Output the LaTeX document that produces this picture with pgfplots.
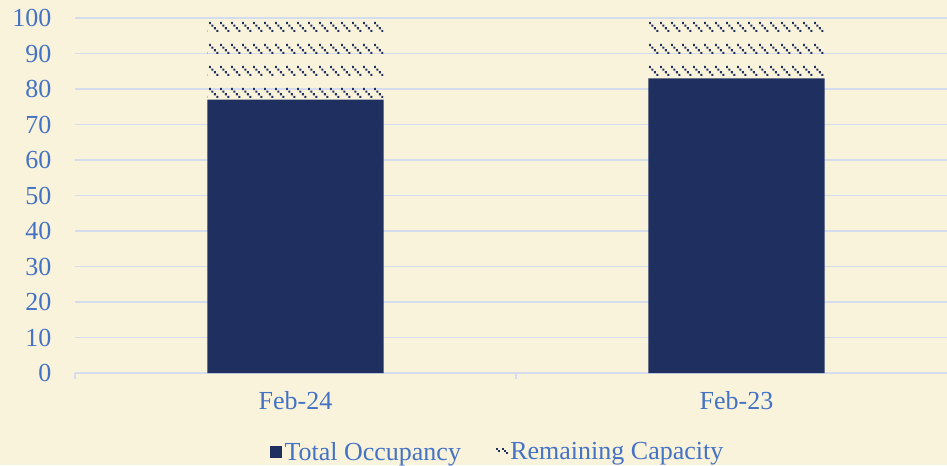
\documentclass[border=0pt]{standalone}
\usepackage{pgfplots}
\pgfplotsset{compat=1.18}
\usepackage{fontspec}
\setmainfont{Liberation Serif}
\usetikzlibrary{patterns}
\definecolor{bgc}{HTML}{FAF3DC}
\definecolor{navy}{HTML}{1F2F5F}
\definecolor{txt}{HTML}{4472C4}
\definecolor{gridc}{HTML}{D5DCEE}
\pgfdeclarepatternformonly{excelhatch}{\pgfpointorigin}{\pgfqpoint{8.25pt}{16.2pt}}{\pgfqpoint{8.25pt}{16.2pt}}{%
  \pgfpathrectangle{\pgfqpoint{0pt}{6pt}}{\pgfqpoint{1.6pt}{1.6pt}}%
  \pgfpathrectangle{\pgfqpoint{2pt}{4pt}}{\pgfqpoint{1.6pt}{1.6pt}}%
  \pgfpathrectangle{\pgfqpoint{4pt}{2pt}}{\pgfqpoint{1.6pt}{1.6pt}}%
  \pgfpathrectangle{\pgfqpoint{6pt}{0pt}}{\pgfqpoint{1.6pt}{1.6pt}}%
  \pgfusepath{fill}}
\begin{document}
\begin{tikzpicture}
\fill[bgc] (-56.25pt,-69pt) rectangle (654pt,279.75pt);
\useasboundingbox (-56.25pt,-69pt) rectangle (654pt,279.75pt);
\begin{axis}[
  at={(0,0)}, anchor=south west,
  scale only axis, width=654pt, height=266.25pt,
  xmin=-0.5, xmax=1.4773, ymin=0, ymax=100,
  ybar stacked, bar width=0.4,
  xtick={0,1}, xticklabels={Feb-24,Feb-23},
  minor xtick={-0.5,0.5,1.5},
  ytick={0,10,...,100},
  axis lines*=left,
  y axis line style={draw=none},
  x axis line style={draw=gridc, line width=0.8pt},
  ymajorgrids, grid style={gridc, line width=0.8pt},
  major tick style={draw=none},
  minor x tick style={draw=gridc, line width=0.8pt},
  tick align=outside, minor tick length=4.5pt,
  ytick style={draw=none},
  /pgf/number format/assume math mode=true,
  tick label style={font=\fontsize{19.5pt}{23pt}\selectfont, text=txt},
  yticklabel style={xshift=-10pt},
  xticklabel style={yshift=-6pt},
  legend style={at={(0.485,-0.2225)}, anchor=center, draw=none, fill=none,
    font=\fontsize{19.5pt}{23pt}\selectfont, text=txt,
    legend columns=2, /tikz/every even column/.append style={column sep=24pt},
    inner sep=0pt},
]
\addplot[fill=navy, draw=none,
  legend image code/.code={\fill[navy] (0pt,-4.5pt) rectangle (9pt,4.5pt);}]
  coordinates {(0,77) (1,83)};
\addlegendentry{Total Occupancy}
\addplot[pattern=excelhatch, pattern color=navy, draw=none,
  legend image code/.code={
    \fill[navy] (0pt,1.5pt) rectangle (1.5pt,3pt);
    \fill[navy] (1.5pt,0pt) rectangle (3pt,1.5pt);
    \fill[navy] (4.5pt,1.5pt) rectangle (6pt,3pt);
    \fill[navy] (6pt,0pt) rectangle (7.5pt,1.5pt);
    \fill[navy] (7.5pt,-1.5pt) rectangle (9pt,0pt);
  }]
  coordinates {(0,23) (1,17)};
\addlegendentry{Remaining Capacity}
\end{axis}
\end{tikzpicture}
\end{document}
